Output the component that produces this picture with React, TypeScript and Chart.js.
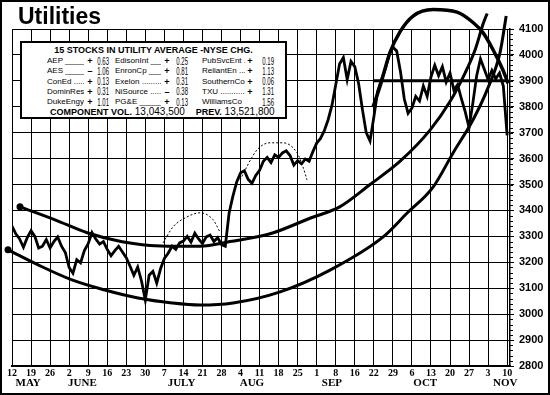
import React, { useEffect, useRef } from "react";
import { Chart, registerables } from "chart.js";

Chart.register(...registerables);

// ---------- data ----------
const weekLabels = ["12", "19", "26", "2", "9", "16", "23", "30", "7", "14", "21", "28", "4", "11", "18", "25", "1", "8", "16", "22", "29", "6", "13", "20", "27", "3", "10"];
const monthNames = ["MAY", "JUNE", "JULY", "AUG", "SEP", "OCT", "NOV"];
const monthWeeks = [0.85, 3.7, 8.9, 12.6, 16.8, 21.7, 25.9];

const pointsPerWeek = 5;
const priceValues = [
  3340, 3310, 3290, 3258, 3295, 3322, 3300, 3255, 3262, 3288,
  3255, 3280, 3298, 3262, 3238, 3180, 3158, 3210, 3198, 3245,
  3272, 3315, 3290, 3270, 3280, 3250, 3225, 3245, 3262, 3240,
  3218, 3185, 3150, 3182, 3128, 3055, 3150, 3165, 3120, 3175,
  3215, 3235, 3262, 3250, 3275, 3282, 3300, 3278, 3312, 3290,
  3272, 3298, 3305, 3280, 3295, 3268, 3262, 3390, 3455, 3510,
  3545, 3553, 3520, 3505, 3535, 3555, 3590, 3605, 3585, 3615,
  3605, 3622, 3630, 3612, 3575, 3592, 3580, 3598, 3590, 3627,
  3660, 3678, 3708, 3750, 3805, 3885, 3965, 3990, 3905, 3975,
  3955, 3890, 3790, 3700, 3668, 3760, 3860, 3905, 3945, 4000,
  4030, 4015, 3935, 3830, 3775, 3795, 3840, 3822, 3880, 3840,
  3915, 3960, 3920, 3955, 3895, 3930, 3865, 3885, 3830, 3780,
  3720, 3815, 3920, 3985, 3945, 3905, 3940, 3908, 3930, 3880,
  3690,
];

const upperBowlWeeks = [0.42, 2.26, 3.99, 5.78, 7.25, 8.56, 9.87, 11.45, 13.55, 15.65, 17.23, 18.8, 20.38, 21.95, 23.0, 23.79, 24.32, 24.74, 24.95];
const upperBowlValues = [3414, 3364, 3313, 3279, 3265, 3262, 3262, 3280, 3310, 3370, 3415, 3500, 3590, 3710, 3820, 3930, 4020, 4120, 4160];

const lowerBowlWeeks = [-0.21, 1.37, 3.15, 4.88, 6.62, 8.4, 9.87, 11.61, 14.08, 16.7, 19.49, 20.75, 22.11, 23.16, 24.21, 24.95, 25.63, 25.95];
const lowerBowlValues = [3248, 3190, 3132, 3093, 3062, 3043, 3035, 3043, 3086, 3170, 3298, 3390, 3490, 3622, 3750, 3865, 4010, 4150];

const domeWeeks = [18.96, 19.33, 19.85, 20.38, 21.06, 22.11, 23.37, 24.21, 24.74, 25.26, 25.79, 26.05];
const domeValues = [3800, 3880, 4010, 4090, 4150, 4175, 4165, 4125, 4085, 4020, 3940, 3890];

const levelWeeks = [18.96, 26.05];
const levelValues = [3900, 3900];

const julyArcWeeks = [7.93, 8.46, 9.19, 9.87, 10.56, 10.92];
const julyArcValues = [3275, 3337, 3375, 3391, 3364, 3317];

const augArcWeeks = [11.97, 12.87, 13.55, 14.23, 14.97, 15.28, 15.49];
const augArcValues = [3518, 3634, 3661, 3661, 3622, 3568, 3518];

const stockNames = [
  ["AEP", "AES", "ConEd", "DominRes", "DukeEngy"],
  ["EdisonInt", "EnronCp", "Exelon", "NiSource", "PG&E"],
  ["PubSvcEnt", "ReliantEn", "SouthernCo", "TXU", "WilliamsCo"],
];
const stockLeaders = [
  ["_", "_", ".", ".", "."],
  ["_", "_", ".", ".", "_"],
  [".", ".", ".", ".", "."],
];
const stockSigns = [
  ["+", "–", "+", "+", "+"],
  ["+", "+", "+", "–", "+"],
  ["+", "+", "+", "+", ""],
];
const stockChanges = [
  ["0.63", "1.06", "0.13", "0.31", "1.01"],
  ["0.25", "0.81", "0.31", "0.38", "0.13"],
  ["0.19", "1.13", "0.06", "1.31", "1.56"],
];

// ---------- layout constants (styling only) ----------
const colNameX = [47, 115, 202];
const colNameW = [37, 46, 43];
const colSignX = [90, 167, 250];
const colValueRight = [109, 188, 274];
const rowCenterY = [61, 71.3, 81.6, 91.9, 102.2];

const toPoints = (xs: number[], ys: number[]) => xs.map((x, i) => ({ x, y: ys[i] }));

const minorTicks = {
  id: "minorTicks",
  afterDraw(chart: any) {
    const y = chart.scales.y;
    const ctx = chart.ctx;
    const right = chart.chartArea.right;
    ctx.save();
    ctx.strokeStyle = "#000";
    ctx.lineWidth = 1;
    for (let v = y.min; v <= y.max; v += 20) {
      const py = Math.round(y.getPixelForValue(v)) + 0.5;
      ctx.beginPath();
      ctx.moveTo(right, py);
      ctx.lineTo(right + 3, py);
      ctx.stroke();
    }
    ctx.restore();
  },
};

export default function App() {
  const ref = useRef<HTMLCanvasElement | null>(null);

  useEffect(() => {
    if (!ref.current) return;
    const curve = (data: any[], width: number, extra: any = {}) => ({
      data,
      borderColor: "#000",
      backgroundColor: "#000",
      borderWidth: width,
      pointRadius: 0,
      cubicInterpolationMode: "monotone",
      clip: false,
      ...extra,
    });
    const startDot = {
      pointRadius: (c: any) => (c.dataIndex === 0 ? 3.5 : 0),
      pointBackgroundColor: "#000",
      pointBorderWidth: 0,
    };
    const chart = new Chart(ref.current, {
      type: "line",
      data: {
        datasets: [
          curve(toPoints(julyArcWeeks, julyArcValues), 1, { borderDash: [2, 2] }),
          curve(toPoints(augArcWeeks, augArcValues), 1, { borderDash: [2, 2] }),
          curve(toPoints(upperBowlWeeks, upperBowlValues), 3, startDot),
          curve(toPoints(lowerBowlWeeks, lowerBowlValues), 3, startDot),
          curve(toPoints(domeWeeks, domeValues), 3.5),
          curve(toPoints(levelWeeks, levelValues), 3, { cubicInterpolationMode: "default" }),
          {
            data: priceValues.map((v, i) => ({ x: i / pointsPerWeek, y: v })),
            borderColor: "#000",
            borderWidth: 2.8,
            pointRadius: 0,
            tension: 0,
          },
        ] as any,
      },
      options: {
        responsive: false,
        animation: false,
        events: [],
        layout: { padding: { left: 12, right: 0, top: 29, bottom: 2 } },
        plugins: {
          legend: { display: false },
          tooltip: { enabled: false },
          title: { display: false },
        },
        scales: {
          x: {
            type: "linear",
            position: "bottom",
            min: 0,
            max: 26.15,
            afterBuildTicks: (s: any) => {
              s.ticks = weekLabels.map((_, i) => ({ value: i }));
            },
            afterFit: (s: any) => {
              s.height = 11;
            },
            ticks: {
              callback: (v: any) => weekLabels[v],
              autoSkip: false,
              maxRotation: 0,
              padding: 1,
              color: "#000",
              font: { family: '"Liberation Serif", serif', size: 10, weight: "bold" },
            },
            grid: { color: "#000", lineWidth: 1, drawTicks: false },
            border: { display: true, color: "#000", width: 2 },
          },
          x2: {
            type: "linear",
            position: "bottom",
            min: 0,
            max: 26.15,
            afterBuildTicks: (s: any) => {
              s.ticks = monthWeeks.map((v) => ({ value: v }));
            },
            afterFit: (s: any) => {
              s.height = 16;
            },
            ticks: {
              callback: (_v: any, i: number) => monthNames[i],
              autoSkip: false,
              maxRotation: 0,
              padding: 0,
              color: "#000",
              font: { family: '"Liberation Serif", serif', size: 11, weight: "bold" },
            },
            grid: { display: false, drawTicks: false },
            border: { display: false },
          },
          y: {
            position: "right",
            min: 2800,
            max: 4100,
            afterFit: (s: any) => {
              s.width = 40;
            },
            ticks: {
              stepSize: 100,
              padding: 5,
              color: "#000",
              callback: (v: any) => String(v),
              font: { family: '"Liberation Sans", Arial, sans-serif', size: 11, weight: "bold" },
            },
            grid: { color: "#000", lineWidth: 1, tickLength: 4 },
            border: { display: true, color: "#000", width: 1.5 },
          },
        } as any,
      },
      plugins: [minorTicks],
    });
    return () => chart.destroy();
  }, []);

  const sans = '"Liberation Sans", Arial, sans-serif';

  return (
    <div style={{ position: "absolute", left: 0, top: 0, width: 550, height: 395, background: "#fff", overflow: "hidden" }}>
      <canvas ref={ref} width={550} height={395} style={{ position: "absolute", left: 0, top: 0, width: 550, height: 395 }} />
      <div
        style={{
          position: "absolute",
          left: 18,
          top: 5,
          fontFamily: sans,
          fontWeight: "bold",
          fontSize: 23,
          lineHeight: "23px",
          color: "#000",
        }}
      >
        Utilities
      </div>
      <div
        style={{
          position: "absolute",
          left: 20,
          top: 41,
          width: 267,
          height: 78,
          boxSizing: "border-box",
          border: "2px solid #000",
          background: "#fff",
        }}
      />
      <div
        style={{
          position: "absolute",
          left: 20,
          width: 267,
          top: 45,
          textAlign: "center",
          fontFamily: sans,
          fontWeight: "bold",
          fontSize: 9,
          lineHeight: "10px",
          color: "#000",
          whiteSpace: "nowrap",
        }}
      >
        15 STOCKS IN UTILITY AVERAGE -NYSE CHG.
      </div>
      {stockNames.map((col, c) =>
        col.map((name, r) => (
          <React.Fragment key={`${c}-${r}`}>
            <div
              style={{
                position: "absolute",
                left: colNameX[c],
                top: rowCenterY[r] - 5,
                width: colNameW[c],
                height: 10,
                overflow: "hidden",
                whiteSpace: "nowrap",
                fontFamily: sans,
                fontSize: 8,
                lineHeight: "10px",
                color: "#000",
              }}
            >
              {name + " " + stockLeaders[c][r].repeat(40)}
            </div>
            <div
              style={{
                position: "absolute",
                left: colSignX[c] - 5,
                width: 10,
                top: rowCenterY[r] - 5,
                textAlign: "center",
                fontFamily: sans,
                fontWeight: "bold",
                fontSize: 9,
                lineHeight: "10px",
                color: "#000",
              }}
            >
              {stockSigns[c][r]}
            </div>
            <div
              style={{
                position: "absolute",
                left: colValueRight[c] - 30,
                width: 30,
                top: rowCenterY[r] - 5.5,
                textAlign: "right",
                fontFamily: sans,
                fontSize: 10,
                lineHeight: "11px",
                color: "#000",
                transform: "scaleX(0.6)",
                transformOrigin: "right center",
              }}
            >
              {stockChanges[c][r]}
            </div>
          </React.Fragment>
        ))
      )}
      <div
        style={{
          position: "absolute",
          left: 50,
          top: 106,
          whiteSpace: "nowrap",
          fontFamily: sans,
          fontSize: 10,
          lineHeight: "12px",
          color: "#000",
        }}
      >
        <span style={{ fontWeight: "bold", fontSize: 9 }}>COMPONENT VOL.</span> 13,043,500{"   "}
        <span style={{ fontWeight: "bold", fontSize: 9, marginLeft: 8 }}>PREV.</span> 13,521,800
      </div>
      <div
        style={{
          position: "absolute",
          left: 0,
          top: 0,
          width: 550,
          height: 395,
          boxSizing: "border-box",
          border: "2px solid #000",
          pointerEvents: "none",
        }}
      />
    </div>
  );
}
